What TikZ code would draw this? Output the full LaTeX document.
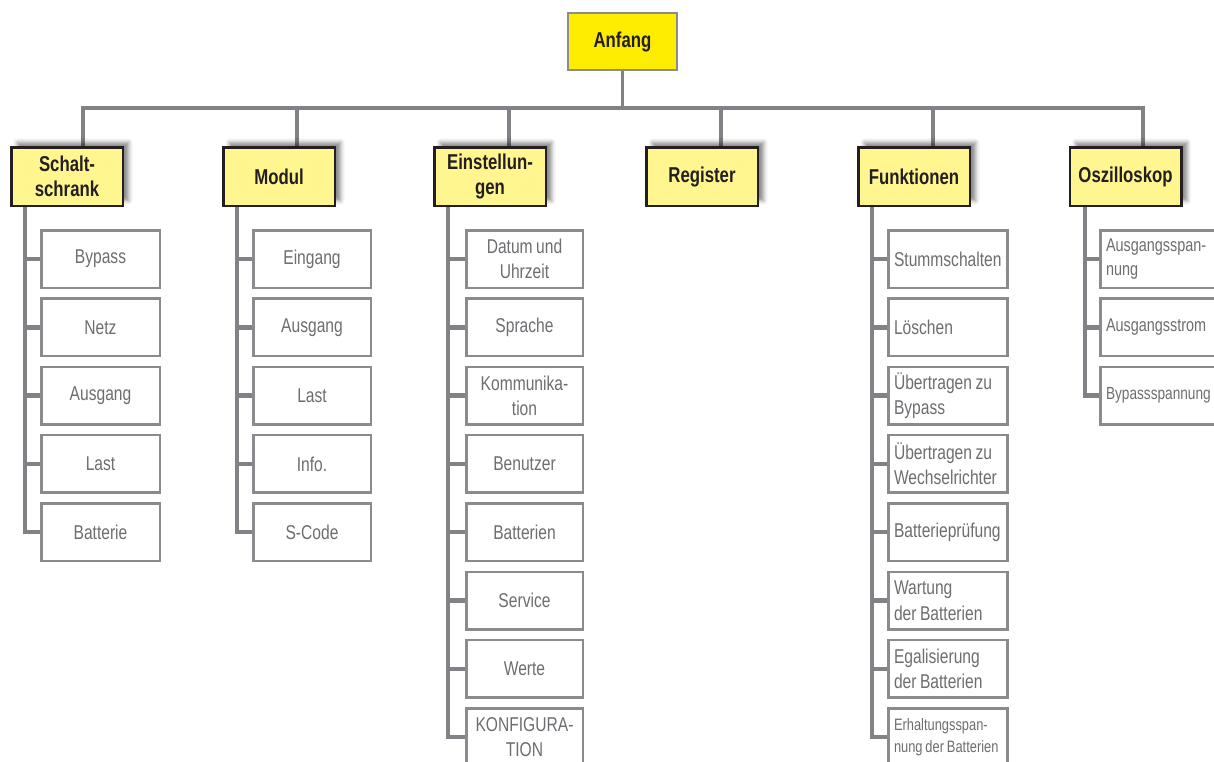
\documentclass[tikz,border=0pt]{standalone}
\usepackage{fontspec}
\setmainfont{Liberation Sans}
\newfontfamily\condfont[FakeStretch=0.78,WordSpace=0.8]{Liberation Sans}
\usetikzlibrary{shadows.blur}
\definecolor{conn}{HTML}{808285}
\definecolor{leafgray}{HTML}{8A8B8E}
\definecolor{leaftext}{HTML}{6D6E71}
\definecolor{darktext}{HTML}{231F20}
\definecolor{anfyellow}{HTML}{FFED00}
\definecolor{catyellow}{HTML}{FFF68F}
\definecolor{topgray}{HTML}{8C8C8C}
\pgfdeclarelayer{bg}
\pgfsetlayers{bg,main}
\tikzset{
  connline/.style={draw=conn, line width=4.5pt, line join=miter},
  topbox/.style={draw=topgray, line width=2pt, fill=anfyellow, minimum width=109pt, minimum height=57pt,
    inner sep=0pt, align=center, text=darktext, font=\condfont\bfseries\fontsize{21.5}{25}\selectfont},
  catbox/.style={draw=darktext, line width=2.5pt, fill=catyellow, minimum width=111.5pt, minimum height=58.5pt,
    inner sep=0pt, align=center, text=darktext, font=\condfont\bfseries\fontsize{21.5}{25}\selectfont,
    blur shadow={shadow xshift=6pt, shadow yshift=5pt, shadow blur radius=4pt, shadow opacity=45}},
  leafc/.style={draw=leafgray, line width=2.5pt, fill=white, minimum height=57.5pt, inner sep=0pt,
    align=center, text=leaftext, font=\condfont\fontsize{20}{25.5}\selectfont},
  leafl/.style={leafc, align=left, inner xsep=5.5pt, text width=108pt,
    execute at begin node={\spaceskip=0pt\xspaceskip=0pt\relax}},
  smallfont/.style={font=\condfont\fontsize{17.5}{21.5}\selectfont},
  tinyfont/.style={font=\condfont\fontsize{16.5}{21.5}\selectfont},
  oszfont/.style={font=\condfont\fontsize{18.5}{24}\selectfont}
}
\begin{document}
\begin{tikzpicture}[x=1pt,y=-1pt]
\useasboundingbox (0,0) rectangle (1214,761);
\clip (0,0) rectangle (1214,761);
% top
\node[topbox] (anf) at (622.5,41.5) {Anfang};
% categories
\node[catbox] (k1) at (67,176.5) {Schalt-\\schrank};
\node[catbox] (k2) at (279,176.5) {Modul};
\node[catbox] (k3) at (490,176.5) {Einstellun-\\gen};
\node[catbox] (k4) at (702,176.5) {Register};
\node[catbox] (k5) at (914,176.5) {Funktionen};
\node[catbox] (k6) at (1125.5,176.5) {Oszilloskop};
% column 1
\node[leafc, minimum width=118.5pt] (a1) at (100.5,259) {Bypass};
\node[leafc, minimum width=118.5pt] (a2) at (100.5,327.3) {Netz};
\node[leafc, minimum width=118.5pt] (a3) at (100.5,395.6) {Ausgang};
\node[leafc, minimum width=118.5pt] (a4) at (100.5,463.9) {Last};
\node[leafc, minimum width=118.5pt] (a5) at (100.5,532.2) {Batterie};
% column 2
\node[leafc, minimum width=117.5pt] (b1) at (312,259) {Eingang};
\node[leafc, minimum width=117.5pt] (b2) at (312,327.3) {Ausgang};
\node[leafc, minimum width=117.5pt] (b3) at (312,395.6) {Last};
\node[leafc, minimum width=117.5pt] (b4) at (312,463.9) {Info.};
\node[leafc, minimum width=117.5pt] (b5) at (312,532.2) {S-Code};
% column 3
\node[leafc, minimum width=116.5pt] (c1) at (524.5,259) {Datum und\\Uhrzeit};
\node[leafc, minimum width=116.5pt] (c2) at (524.5,327.3) {Sprache};
\node[leafc, minimum width=116.5pt] (c3) at (524.5,395.6) {Kommunika-\\tion};
\node[leafc, minimum width=116.5pt] (c4) at (524.5,463.9) {Benutzer};
\node[leafc, minimum width=116.5pt] (c5) at (524.5,532.2) {Batterien};
\node[leafc, minimum width=116.5pt] (c6) at (524.5,600.5) {Service};
\node[leafc, minimum width=116.5pt] (c7) at (524.5,668.8) {Werte};
\node[leafc, minimum width=116.5pt] (c8) at (524.5,737.1) {KONFIGURA-\\TION};
% column 5
\node[leafl] (e1) at (948,259) {Stummschalten};
\node[leafl] (e2) at (948,327.3) {Löschen};
\node[leafl] (e3) at (948,395.6) {Übertragen zu\\Bypass};
\node[leafl] (e4) at (948,463.9) {Übertragen zu\\Wechselrichter};
\node[leafl] (e5) at (948,532.2) {Batterieprüfung};
\node[leafl] (e6) at (948,600.5) {Wartung\\der Batterien};
\node[leafl] (e7) at (948,668.8) {Egalisierung\\der Batterien};
\node[leafl, tinyfont] (e8) at (948,737.1) {Erhaltungsspan-\\nung der Batterien};
% column 6
\node[leafl, oszfont] (f1) at (1160,259) {Ausgangsspan-\\nung};
\node[leafl, oszfont] (f2) at (1160,327.3) {Ausgangsstrom};
\node[leafl, smallfont] (f3) at (1160,395.6) {Bypassspannung};
% connectors
\begin{pgfonlayer}{bg}
\coordinate (busL) at (83,108);
\coordinate (busR) at (1143,108);
\coordinate (d2) at (297,108);
\coordinate (d3) at (509,108);
\coordinate (d4) at (721,108);
\coordinate (d5) at (933,108);
\draw[connline, line width=2.7pt] (anf.south) -- (anf.south |- busL);
\draw[connline] (busL |- k1.north) -- (busL) -- (busR) -- (busR |- k6.north);
\draw[connline] (d2) -- (d2 |- k2.north);
\draw[connline] (d3) -- (d3 |- k3.north);
\draw[connline] (d4) -- (d4 |- k4.north);
\draw[connline] (d5) -- (d5 |- k5.north);
% spines
\coordinate (s1) at (25,0);
\coordinate (s2) at (237,0);
\coordinate (s3) at (448,0);
\coordinate (s5) at (872,0);
\coordinate (s6) at (1085,0);
\draw[connline] (s1 |- k1.south) -- (s1 |- a5.west) -- (a5.west);
\foreach \n in {a1,a2,a3,a4} \draw[connline] (s1 |- \n.west) -- (\n.west);
\draw[connline] (s2 |- k2.south) -- (s2 |- b5.west) -- (b5.west);
\foreach \n in {b1,b2,b3,b4} \draw[connline] (s2 |- \n.west) -- (\n.west);
\draw[connline] (s3 |- k3.south) -- (s3 |- c8.west) -- (c8.west);
\foreach \n in {c1,c2,c3,c4,c5,c6,c7} \draw[connline] (s3 |- \n.west) -- (\n.west);
\draw[connline] (s5 |- k5.south) -- (s5 |- e8.west) -- (e8.west);
\foreach \n in {e1,e2,e3,e4,e5,e6,e7} \draw[connline] (s5 |- \n.west) -- (\n.west);
\draw[connline] (s6 |- k6.south) -- (s6 |- f3.west) -- (f3.west);
\foreach \n in {f1,f2} \draw[connline] (s6 |- \n.west) -- (\n.west);
\end{pgfonlayer}
\end{tikzpicture}
\end{document}
